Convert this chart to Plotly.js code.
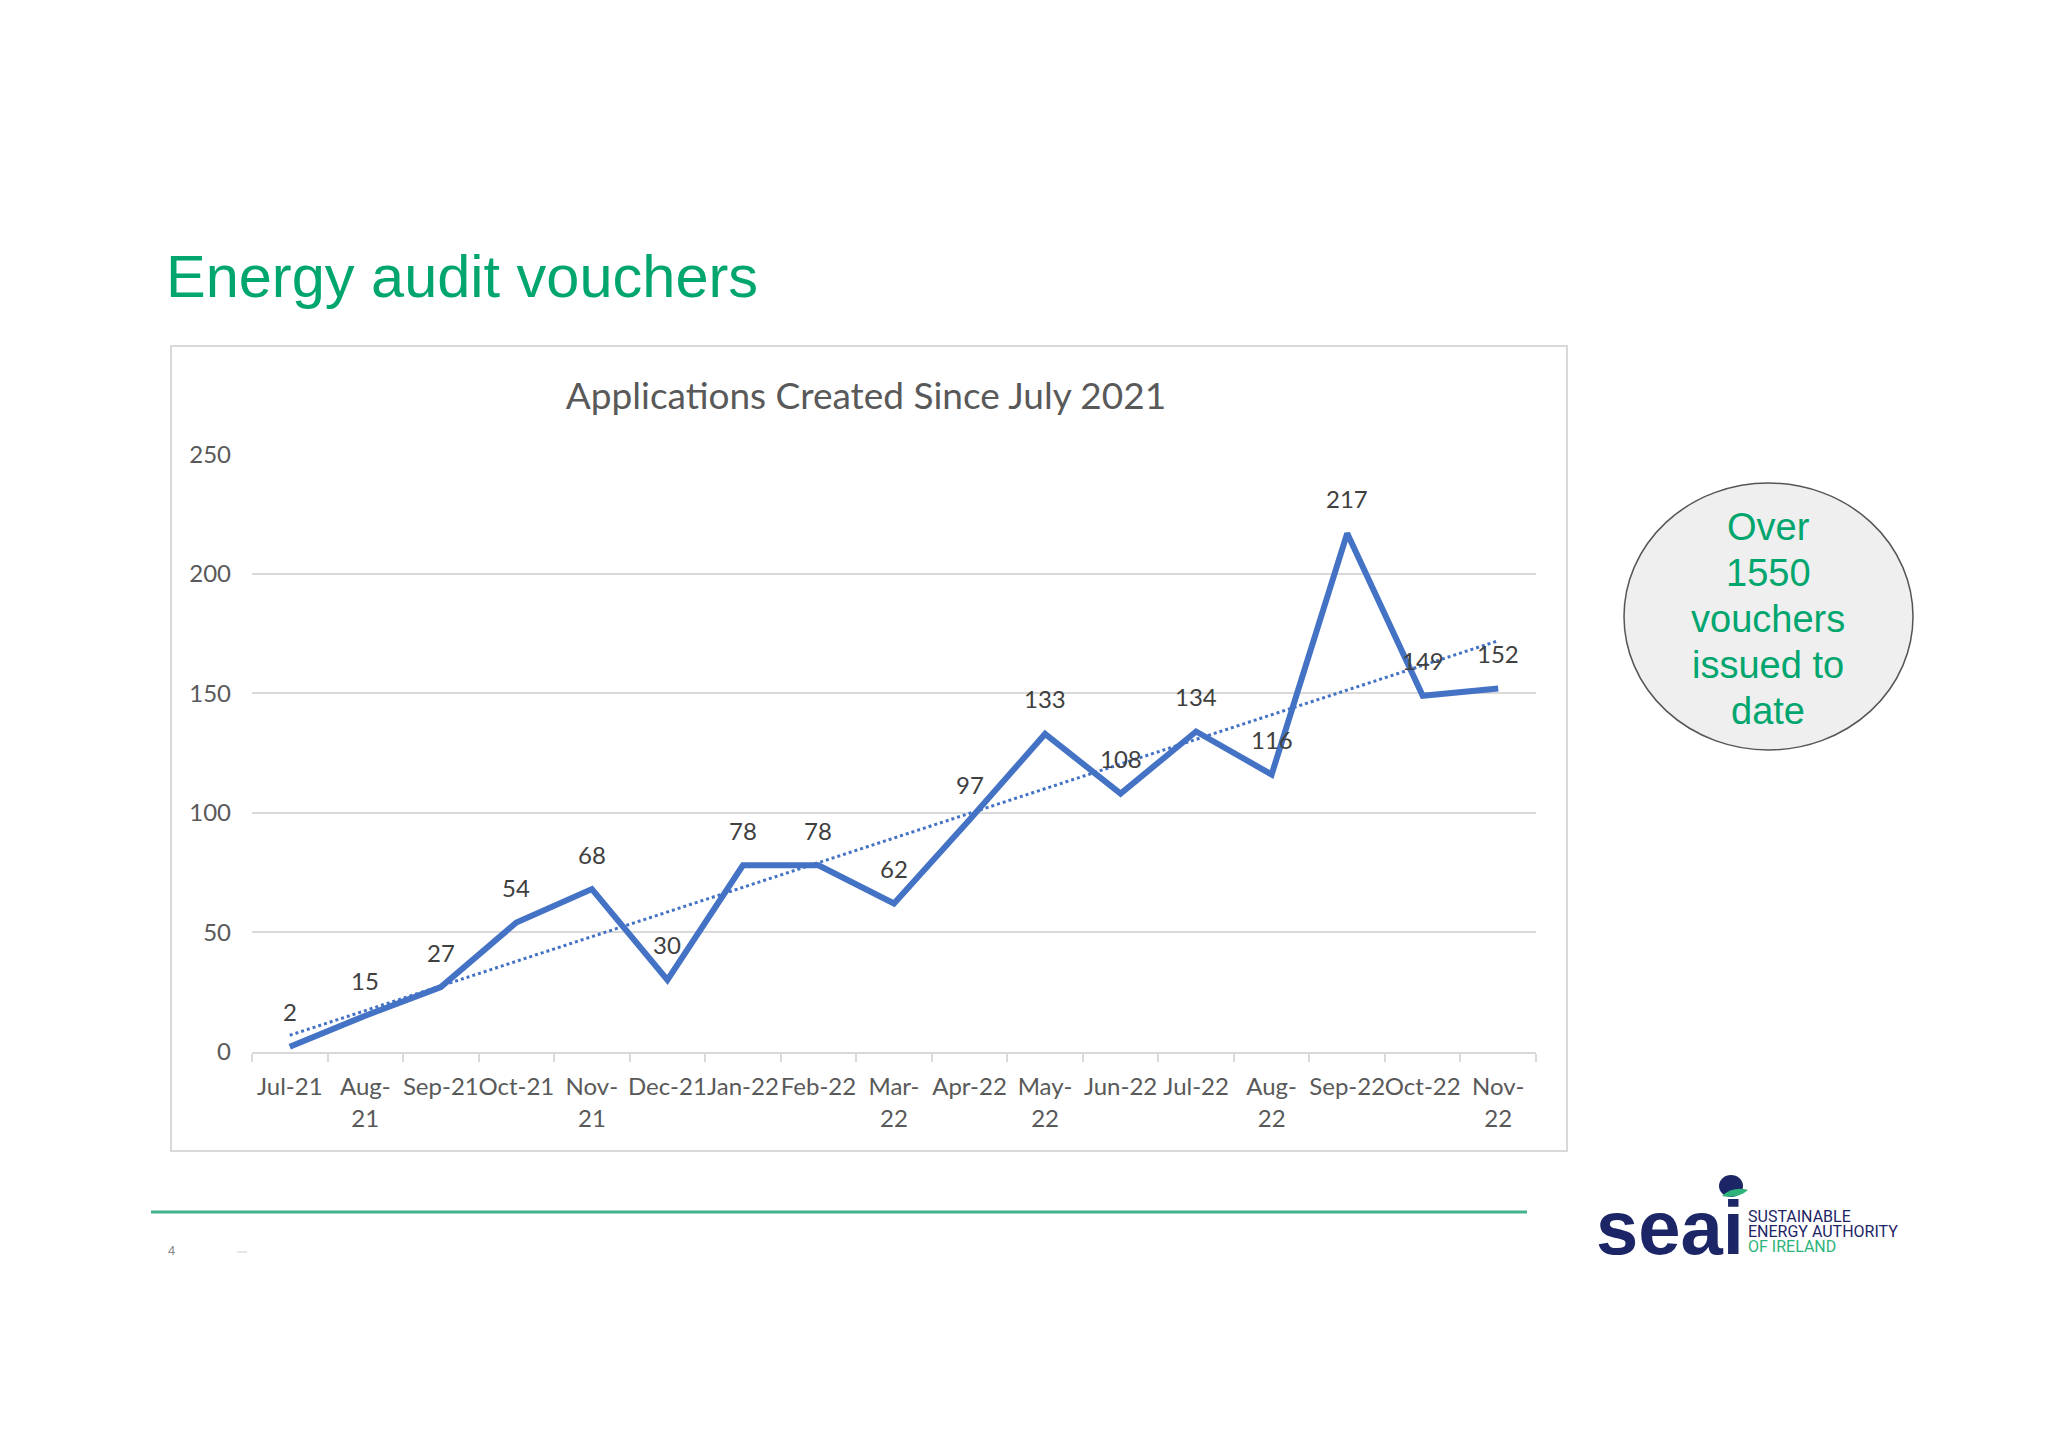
<!DOCTYPE html>
<html>
<head>
<meta charset="utf-8">
<script src="https://cdn.plot.ly/plotly-3.0.1.min.js"></script>
<style>
  html, body { margin: 0; padding: 0; background: #ffffff; }
  #chart { width: 2048px; height: 1448px; }
</style>
</head>
<body>
<div id="chart"></div>
<script>
// ---- data ----
const categories = ['Jul-21','Aug-21','Sep-21','Oct-21','Nov-21','Dec-21','Jan-22','Feb-22','Mar-22','Apr-22','May-22','Jun-22','Jul-22','Aug-22','Sep-22','Oct-22','Nov-22'];
const tickLabels = ['Jul-21','Aug-<br>21','Sep-21','Oct-21','Nov-<br>21','Dec-21','Jan-22','Feb-22','Mar-<br>22','Apr-22','May-<br>22','Jun-22','Jul-22','Aug-<br>22','Sep-22','Oct-22','Nov-<br>22'];
const applications = [2, 15, 27, 54, 68, 30, 78, 78, 62, 97, 133, 108, 134, 116, 217, 149, 152];
// linear trendline, read at the first and last month
const trendCategories = ['Jul-21', 'Nov-22'];
const trendValues = [6.8, 172];
const yTicks = [0, 50, 100, 150, 200, 250];

const chartTitle = 'Applications Created Since July 2021';
const slideTitle = 'Energy audit vouchers';
const calloutLines = ['Over', '1550', 'vouchers', 'issued to', 'date'];

// ---- page geometry (paper fractions of a 2048x1448 page) ----
const W = 2048, H = 1448;
const px = x => x / W;
const py = y => 1 - y / H;

const blue = '#4472C4';
const green = '#00A66E';
const navy = '#1C2566';
const chartFont = 'Lato, "Open Sans", sans-serif';
const arial = '"Liberation Sans", Arial, sans-serif';

const traces = [
  {
    type: 'scatter', mode: 'lines',
    x: categories, y: applications,
    line: { color: blue, width: 6, shape: 'linear' },
    hoverinfo: 'x+y', showlegend: false
  },
  {
    type: 'scatter', mode: 'lines',
    x: trendCategories, y: trendValues,
    line: { color: blue, width: 3, dash: 'dot' },
    hoverinfo: 'skip', showlegend: false
  }
];

const annotations = applications.map((v, i) => ({
  x: categories[i], y: v, xref: 'x', yref: 'y',
  text: String(v), showarrow: false,
  yanchor: 'middle', xanchor: 'center', yshift: 35,
  font: { family: chartFont, size: 24, color: '#404040' }
}));

// callout lines, evenly spaced inside the ellipse
const calloutTop = 527, calloutStep = 46;
calloutLines.forEach((t, i) => annotations.push({
  xref: 'paper', yref: 'paper', x: px(1768), y: py(calloutTop + i * calloutStep),
  xanchor: 'center', yanchor: 'middle', showarrow: false,
  text: t, font: { family: arial, size: 38, color: green }
}));

annotations.push(
  { // slide heading
    xref: 'paper', yref: 'paper', x: px(164), y: py(276),
    xanchor: 'left', yanchor: 'middle', showarrow: false,
    text: slideTitle,
    font: { family: arial, size: 59.5, color: green }
  },
  { // page number
    xref: 'paper', yref: 'paper', x: px(166), y: py(1250),
    xanchor: 'left', yanchor: 'middle', showarrow: false,
    text: '4', font: { family: arial, size: 13, color: '#8a8a8a' }
  },
  { // logo word
    xref: 'paper', yref: 'paper', x: px(1594), y: py(1227),
    xanchor: 'left', yanchor: 'middle', showarrow: false,
    text: '<b>seai</b>',
    font: { family: arial, size: 76, color: navy }
  },
  {
    xref: 'paper', yref: 'paper', x: px(1746), y: py(1216),
    xanchor: 'left', yanchor: 'middle', showarrow: false,
    text: 'SUSTAINABLE', font: { family: 'Roboto, sans-serif', size: 16, color: navy }
  },
  {
    xref: 'paper', yref: 'paper', x: px(1746), y: py(1231),
    xanchor: 'left', yanchor: 'middle', showarrow: false,
    text: 'ENERGY AUTHORITY', font: { family: 'Roboto, sans-serif', size: 16, color: navy }
  },
  {
    xref: 'paper', yref: 'paper', x: px(1746), y: py(1246),
    xanchor: 'left', yanchor: 'middle', showarrow: false,
    text: 'OF IRELAND', font: { family: 'Roboto, sans-serif', size: 16, color: '#2DB37A' }
  }
);

const shapes = [
  { // chart frame
    type: 'rect', xref: 'paper', yref: 'paper', layer: 'below',
    x0: px(171), x1: px(1567), y0: py(1151), y1: py(346),
    line: { color: '#D9D9D9', width: 2 }, fillcolor: 'rgba(0,0,0,0)'
  },
  { // callout ellipse
    type: 'circle', xref: 'paper', yref: 'paper', layer: 'below',
    x0: px(1624), x1: px(1913), y0: py(750), y1: py(483),
    line: { color: '#555555', width: 1.5 }, fillcolor: '#EFEFEF'
  },
  { // footer rule
    type: 'line', xref: 'paper', yref: 'paper',
    x0: px(151), x1: px(1527), y0: py(1212), y1: py(1212),
    line: { color: '#45B28E', width: 3 }
  },
  { // tiny footer dash
    type: 'line', xref: 'paper', yref: 'paper',
    x0: px(237), x1: px(247), y0: py(1252), y1: py(1252),
    line: { color: '#cccccc', width: 1 }
  },
  { // logo dot
    type: 'circle', xref: 'paper', yref: 'paper',
    x0: px(1719), x1: px(1743), y0: py(1197), y1: py(1175),
    line: { width: 0 }, fillcolor: navy
  },
  { // logo swoosh
    type: 'path', xref: 'paper', yref: 'paper',
    path: `M ${px(1722)},${py(1196)} Q ${px(1733)},${py(1186)} ${px(1748)},${py(1190)} Q ${px(1738)},${py(1199)} ${px(1722)},${py(1196)} Z`,
    line: { width: 0 }, fillcolor: '#2DB37A'
  }
];

const layout = {
  width: W, height: H,
  margin: { l: 0, r: 0, t: 0, b: 0, pad: 0 },
  paper_bgcolor: '#ffffff', plot_bgcolor: '#ffffff',
  showlegend: false,
  title: {
    text: chartTitle, x: px(866), y: py(396), xref: 'paper', yref: 'paper',
    xanchor: 'center', yanchor: 'middle',
    font: { family: chartFont, size: 37, color: '#595959' }
  },
  xaxis: {
    type: 'category', domain: [px(252), px(1536)],
    range: [-0.5, categories.length - 0.5],
    tickmode: 'array', tickvals: categories, ticktext: tickLabels,
    tickangle: 0, ticklabelstandoff: 13,
    tickson: 'boundaries', ticks: 'outside', ticklen: 8, tickwidth: 2, tickcolor: '#D9D9D9',
    showline: true, linecolor: '#D9D9D9', linewidth: 2,
    showgrid: false, zeroline: false,
    tickfont: { family: chartFont, size: 24, color: '#595959' },
    fixedrange: true
  },
  yaxis: {
    domain: [py(1051.5), py(454.5)],
    range: [0, 250], tickmode: 'array', tickvals: yTicks,
    showgrid: true, gridcolor: '#D9D9D9', gridwidth: 2,
    zeroline: false, showline: false, ticks: '',
    ticklabelstandoff: 20,
    tickfont: { family: chartFont, size: 24, color: '#595959' },
    fixedrange: true
  },
  shapes: shapes,
  annotations: annotations
};

Plotly.newPlot('chart', traces, layout, { displayModeBar: false, staticPlot: true });
</script>
</body>
</html>
